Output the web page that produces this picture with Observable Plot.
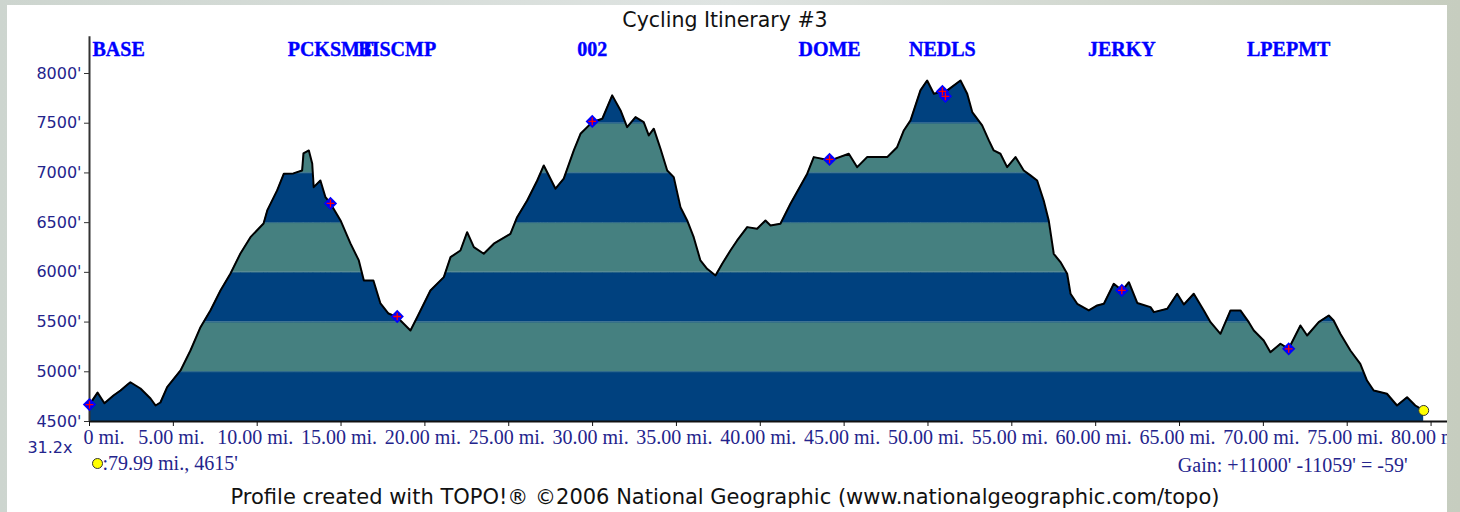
<!DOCTYPE html>
<html><head><meta charset="utf-8">
<script src="https://cdn.jsdelivr.net/npm/d3@7"></script>
<script src="https://cdn.jsdelivr.net/npm/@observablehq/plot@0.6"></script>
<style>
html,body{margin:0;padding:0;}
body{width:1460px;height:512px;overflow:hidden;background:linear-gradient(90deg,#cdd5cf,#dfe4e2 50%,#c6cdbf);position:relative;}
#panel{position:absolute;left:7px;top:5px;width:1440px;height:507px;background:#fff;overflow:hidden;}
#title{position:absolute;left:0;top:0;width:1436px;text-align:center;font-family:"DejaVu Sans";font-size:20.5px;line-height:30px;color:#111;}
#chart{position:absolute;left:0;top:27px;}
#caption{position:absolute;left:0;top:477px;width:1436px;text-align:center;font-family:"DejaVu Sans";font-size:21px;line-height:30px;color:#111;}
</style></head><body>
<div id="panel"><div id="title">Cycling Itinerary #3</div><div id="chart"></div><div id="caption">Profile created with TOPO!® ©2006 National Geographic (www.nationalgeographic.com/topo)</div></div>
<script>
const profileMiles = [0,0.48,0.89,1.43,1.85,2.27,2.44,3.04,3.64,3.94,
4.23,4.63,5.43,6.02,6.62,7.21,7.81,8.41,9.00,9.60,
10.38,10.60,11.19,11.59,12.16,12.68,12.76,13.08,13.28,13.37,
13.77,14.07,14.37,14.97,15.56,16.06,16.36,16.93,17.35,17.83,
18.35,19.14,19.54,20.33,21.13,21.53,22.12,22.52,22.92,23.51,
24.11,25.10,25.50,26.10,26.70,27.09,27.79,28.28,28.88,29.28,
29.98,30.58,31.17,31.67,32.06,32.56,33.05,33.35,33.65,34.05,
34.45,34.84,35.24,35.64,36.03,36.43,36.83,37.33,37.73,38.22,
38.62,39.22,39.81,40.31,40.61,41.20,41.80,42.30,42.80,43.19,
44.19,45.28,45.78,46.37,47.57,48.16,48.56,48.96,49.55,49.95,
50.35,51.15,51.94,52.34,52.64,53.23,53.63,53.92,54.32,54.72,
55.22,55.71,56.11,56.51,56.90,57.20,57.50,57.90,58.30,58.50,
58.90,59.59,60.09,60.49,61.08,61.58,61.98,62.48,63.27,63.47,
64.27,64.86,65.26,65.85,66.45,66.85,67.44,68.04,68.63,69.13,
69.43,70.02,70.42,71.02,71.51,72.21,72.61,73.30,73.90,74.19,
74.59,75.19,75.78,76.18,76.58,77.37,77.97,78.57,79.06,79.56];
const profileFeet = [4670,4790,4684,4762,4812,4872,4895,4832,4731,4661,
4691,4845,5013,5214,5449,5617,5818,5989,6190,6354,
6492,6623,6824,6992,6995,7025,7196,7226,7095,6857,
6924,6756,6693,6522,6291,6120,5918,5918,5687,5586,
5549,5415,5549,5818,5952,6153,6220,6404,6253,6187,
6288,6388,6555,6723,6924,7075,6841,6942,7226,7394,
7511,7545,7780,7629,7461,7561,7511,7377,7445,7243,
7025,6958,6656,6522,6354,6120,6036,5969,6086,6220,
6321,6455,6439,6522,6472,6489,6690,6841,6992,7159,
7126,7193,7058,7159,7159,7259,7427,7528,7830,7930,
7797,7830,7930,7797,7612,7478,7327,7226,7193,7058,
7159,7025,6975,6924,6723,6522,6187,6103,5986,5785,
5684,5617,5667,5684,5885,5818,5901,5692,5650,5600,
5634,5785,5677,5785,5617,5499,5382,5617,5617,5499,
5415,5315,5197,5282,5231,5466,5365,5499,5566,5516,
5382,5214,5080,4912,4812,4779,4661,4744,4661,4611];

const waypointNames = ["BASE","PCKSMT","BISCMP","002","DOME","NEDLS","NEDLS","JERKY","LPEPMT"];
const waypointMiles = [0,14.37,18.35,29.98,44.13,50.86,51.04,61.56,71.51];
const waypointFeet  = [4670,6693,5556,7518,7136,7820,7770,5818,5231];

const xTicks = [0,5,10,15,20,25,30,35,40,45,50,55,60,65,70,75,80];
const xTickLabels = ["0 mi.","5.00 mi.","10.00 mi.","15.00 mi.","20.00 mi.","25.00 mi.","30.00 mi.","35.00 mi.","40.00 mi.","45.00 mi.","50.00 mi.","55.00 mi.","60.00 mi.","65.00 mi.","70.00 mi.","75.00 mi.","80.00 mi."];
const yTicks = [4500,5000,5500,6000,6500,7000,7500,8000];
const bandEdges = [4500,5000,5500,6000,6500,7000,7500,8000];

const endMiles = 79.56, endFeet = 4611;
const endLabel = ":79.99 mi., 4615'";
const gainLabel = "Gain: +11000' -11059' = -59'";
const exaggeration = "31.2x";

const DARK = "#00417f", TEAL = "#458080", NAVY = "#24248c", BLUE = "#0000ff";

const pts = profileMiles.map((m, i) => ({mi: m, ft: profileFeet[i]}));
const dense = [];
for (let i = 0; i < pts.length; i++) {
  const a = pts[i], b = pts[i + 1];
  dense.push(a);
  if (!b) continue;
  const cuts = bandEdges.filter(e => (e > a.ft && e < b.ft) || (e < a.ft && e > b.ft));
  cuts.sort((p, q) => b.ft > a.ft ? p - q : q - p);
  for (const e of cuts) {
    const t = (e - a.ft) / (b.ft - a.ft);
    dense.push({mi: a.mi + t * (b.mi - a.mi), ft: e});
  }
}
const waypoints = waypointNames.map((n, i) => ({name: n, mi: waypointMiles[i], ft: waypointFeet[i]}));
const labelled = waypoints.filter((w, i) => waypoints.findIndex(v => v.name === w.name) === i);

const bandMarks = [];
for (let k = 0; k < bandEdges.length - 1; k++) {
  const lo = bandEdges[k], hi = bandEdges[k + 1];
  bandMarks.push(Plot.areaY(dense, {x: "mi", y1: () => lo, y2: d => Math.min(Math.max(d.ft, lo), hi), fill: k % 2 ? TEAL : DARK}));
}
const edgeMarks = bandEdges.slice(1, -1).map(lo =>
  Plot.line(dense, {x: "mi", y: d => d.ft >= lo ? lo : NaN, stroke: "#2a6688", strokeWidth: 1}));

const serif = "Liberation Serif";
const chart = Plot.plot({
  width: 1440, height: 450,
  marginLeft: 82, marginRight: 0, marginTop: 41, marginBottom: 61,
  x: {domain: [0, 80.98], label: null},
  y: {domain: [4500, 8000], label: null},
  style: {background: "transparent", overflow: "visible"},
  marks: [
    ...bandMarks,
    ...edgeMarks,
    Plot.line(pts, {x: "mi", y: "ft", stroke: "#000", strokeWidth: 2}),
    Plot.ruleY([4500], {stroke: "#111", strokeWidth: 2}),
    Plot.ruleX([0], {y1: 4500, y2: 8370, stroke: "#333", strokeWidth: 2}),
    Plot.axisX(xTicks, {anchor: "bottom", tickSize: 5, tickFormat: () => "", label: null, color: "#111"}),
    Plot.axisY(yTicks, {anchor: "left", tickSize: 5, tickFormat: () => "", label: null, color: "#333"}),
    Plot.text(xTicks.slice(1), {x: d => d, text: (d, i) => xTickLabels[i + 1], frameAnchor: "bottom", lineAnchor: "middle", dy: 16, dx: -2, fontFamily: serif, fontSize: 20, fill: NAVY}),
    Plot.text(xTicks.slice(0, 1), {x: d => d, text: () => xTickLabels[0], frameAnchor: "bottom", lineAnchor: "middle", dy: 16, dx: -6, textAnchor: "start", fontFamily: serif, fontSize: 20, fill: NAVY}),
    Plot.text(yTicks, {y: d => d, text: d => d + "'", frameAnchor: "left", lineAnchor: "middle", dx: -8, textAnchor: "end", fontFamily: "DejaVu Sans", fontSize: 16, fill: NAVY}),
    Plot.text(labelled.slice(1), {x: "mi", text: "name", frameAnchor: "top", lineAnchor: "middle", dy: -24, fontFamily: serif, fontWeight: "bold", fontSize: 20, fill: BLUE, stroke: BLUE, strokeWidth: 0.4}),
    Plot.text(labelled.slice(0, 1), {x: "mi", text: "name", frameAnchor: "top", lineAnchor: "middle", dy: -24, dx: 3, textAnchor: "start", fontFamily: serif, fontWeight: "bold", fontSize: 20, fill: BLUE, stroke: BLUE, strokeWidth: 0.4}),
    Plot.dot(waypoints, {x: "mi", y: "ft", symbol: "diamond2", r: 6, fill: BLUE}),
    Plot.dot(waypoints, {x: "mi", y: "ft", symbol: "plus", r: 2.6, stroke: "#ff0000", strokeWidth: 1.3}),
    Plot.dot([{mi: endMiles, ft: endFeet}], {x: "mi", y: "ft", r: 5, fill: "#ffff00", stroke: "#333", strokeWidth: 1}),
    Plot.text([exaggeration], {text: d => d, frameAnchor: "bottom-left", lineAnchor: "middle", dx: -17, dy: 26, textAnchor: "end", fontFamily: "DejaVu Sans", fontSize: 16, fill: NAVY}),
    Plot.dot([endLabel], {frameAnchor: "bottom-left", dx: 8, dy: 42, r: 5, fill: "#ffff00", stroke: "#333", strokeWidth: 1}),
    Plot.text([endLabel], {text: d => d, frameAnchor: "bottom-left", lineAnchor: "middle", dx: 13, dy: 42, textAnchor: "start", fontFamily: serif, fontSize: 20, fill: NAVY}),
    Plot.text([gainLabel], {text: d => d, frameAnchor: "bottom-right", lineAnchor: "middle", dx: -40, dy: 44, textAnchor: "end", fontFamily: serif, fontSize: 20, fill: NAVY})
  ]
});
document.getElementById("chart").appendChild(chart);
</script>
</body></html>
